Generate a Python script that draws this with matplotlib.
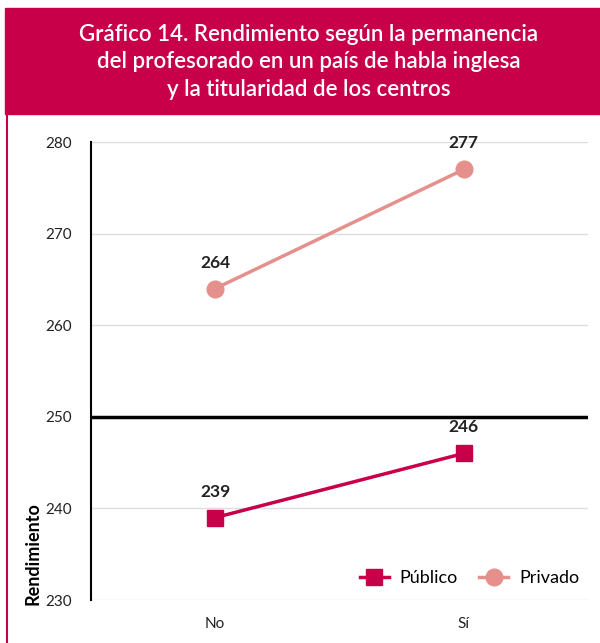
import matplotlib.pyplot as plt
from matplotlib.lines import Line2D
from matplotlib.patches import Rectangle

categorias = ["No", "Sí"]
publico = [239, 246]
privado = [264, 277]
yticks = [230, 240, 250, 260, 270, 280]

rojo = "#C8004A"
rosa = "#E5908D"

plt.rcParams['font.family'] = ['Lato', 'DejaVu Sans']

fig = plt.figure(figsize=(6, 6.43), dpi=100)

# cabecera y borde izquierdo
fig.patches.append(Rectangle((5 / 600, 1 - 114 / 643), 595 / 600, 106 / 643,
                             transform=fig.transFigure, color=rojo, zorder=0))
fig.add_artist(Line2D([6.5 / 600, 6.5 / 600], [0, 1 - 114 / 643],
                      transform=fig.transFigure, color=rojo, lw=1.5))
fig.text(0.515, 1 - 62 / 643,
         "Gráfico 14. Rendimiento según la permanencia\n"
         "del profesorado en un país de habla inglesa\n"
         "y la titularidad de los centros",
         ha="center", va="center", color="white", fontsize=16,
         fontweight="semibold", linespacing=1.4)

ax = fig.add_axes([91 / 600, 1 - 600 / 643, 497 / 600, 458 / 643])
x = list(range(len(categorias)))

ax.plot(x, publico, color=rojo, lw=2.5, marker="s", markersize=11, label="Público", zorder=3)
ax.plot(x, privado, color=rosa, lw=2.5, marker="o", markersize=12, label="Privado", zorder=3)

for xi, v in zip(x, publico):
    ax.annotate(str(v), (xi, v), xytext=(0, 13), textcoords="offset points",
                ha="center", va="bottom", fontsize=12.5, fontweight="bold", color="#222222")
for xi, v in zip(x, privado):
    ax.annotate(str(v), (xi, v), xytext=(0, 13), textcoords="offset points",
                ha="center", va="bottom", fontsize=12.5, fontweight="bold", color="#222222")

ax.set_xlim(-0.5, 1.5)
ax.set_ylim(230, 280)
ax.set_yticks(yticks)
ax.set_xticks(x)
ax.set_xticklabels(categorias)
ax.tick_params(axis="both", length=0, labelsize=11, colors="#222222")
ax.tick_params(axis="x", pad=12)
ax.tick_params(axis="y", pad=14)

for t in yticks:
    if t != 250:
        ax.axhline(t, color="#dddddd", lw=1, zorder=1)
ax.axhline(250, color="black", lw=2.5, zorder=2)

for s in ["top", "right", "bottom"]:
    ax.spines[s].set_visible(False)
ax.spines["left"].set_color("black")
ax.spines["left"].set_linewidth(1.5)

ax.set_ylabel("Rendimiento", fontsize=13, fontweight="bold")
ax.yaxis.set_label_coords(-0.1, -0.012, transform=ax.transAxes)
ax.yaxis.label.set_va("bottom")
ax.yaxis.label.set_ha("left")

ax.legend(loc="lower right", bbox_to_anchor=(1.015, -0.005), ncol=2, frameon=False,
          fontsize=13, handlelength=1.6, columnspacing=1.2, handletextpad=0.6)

fig.savefig("out.png", dpi=100)
